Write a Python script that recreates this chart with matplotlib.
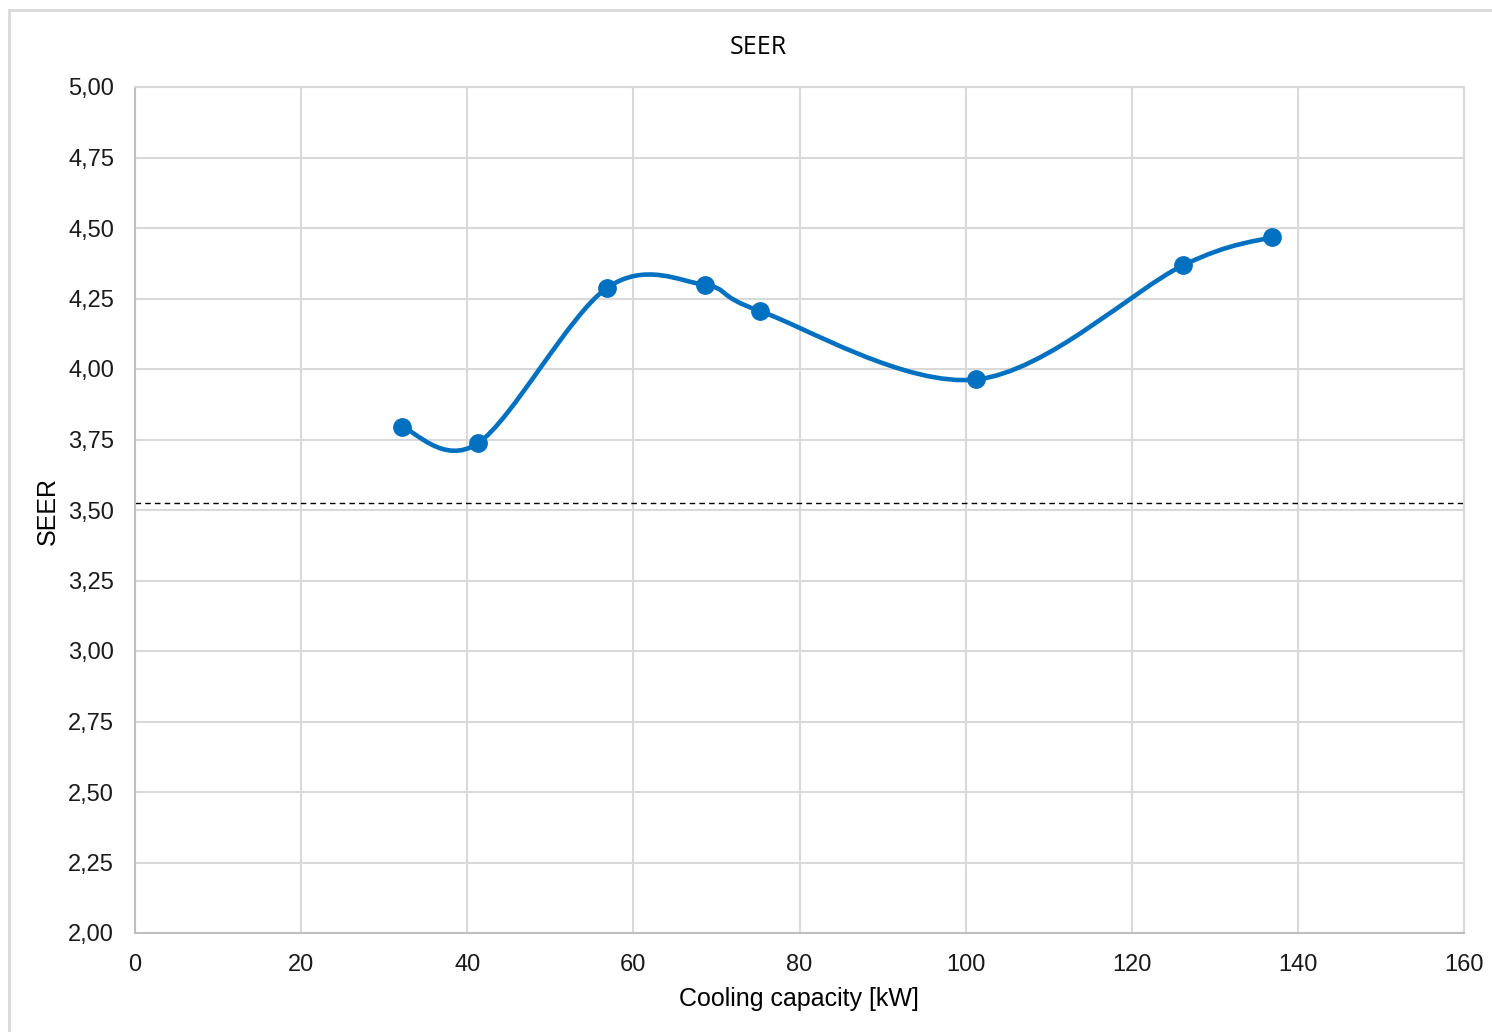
import matplotlib.pyplot as plt
import numpy as np
from matplotlib.path import Path
from matplotlib.patches import PathPatch, Rectangle
from matplotlib.ticker import FuncFormatter

# data
capacity = [32.1, 41.3, 56.8, 68.6, 75.2, 101.3, 126.2, 136.9]
seer = [3.795, 3.737, 4.287, 4.298, 4.206, 3.963, 4.368, 4.468]
limit = 3.525

blue = "#0070C0"
grid = "#d9d9d9"

fig = plt.figure(figsize=(14.92, 10.32), dpi=100)
# chart border (only top/left visible in the reference)
fig.patches.append(Rectangle((9 / 1492, -0.1), 1.2, (1032 - 10) / 1032 + 0.1,
                             transform=fig.transFigure, fill=False,
                             edgecolor="#d9d9d9", linewidth=2))
ax = fig.add_axes([135 / 1492, 99 / 1032, 1329 / 1492, 846 / 1032])

# Excel-style smoothed line: cubic bezier through the points
x = np.array(capacity)
y = np.array(seer)
pts = np.column_stack([x, y])
n = len(pts)
verts = [pts[0]]
codes = [Path.MOVETO]
for i in range(n - 1):
    p0 = pts[max(i - 1, 0)]
    p1 = pts[i]
    p2 = pts[i + 1]
    p3 = pts[min(i + 2, n - 1)]
    c1 = p1 + (p2 - p0) / 6
    c2 = p2 - (p3 - p1) / 6
    verts += [c1, c2, p2]
    codes += [Path.CURVE4] * 3
ax.add_patch(PathPatch(Path(verts, codes), facecolor="none", edgecolor=blue,
                       linewidth=3.3, capstyle="round", zorder=3))
ax.plot(capacity, seer, "o", color=blue, markersize=12.5, zorder=4)

ax.axhline(limit, color="black", linestyle=(0, (4, 3)), linewidth=1, zorder=2)

ax.set_xlim(0, 160)
ax.set_ylim(2.0, 5.0)
ax.set_xticks(np.arange(0, 161, 20))
ax.set_yticks(np.arange(2.0, 5.01, 0.25))
ax.yaxis.set_major_formatter(FuncFormatter(lambda v, p: f"{v:.2f}".replace(".", ",")))
ax.grid(True, color=grid, linewidth=1.5)
ax.set_axisbelow(True)
for s in ax.spines.values():
    s.set_color(grid)
    s.set_linewidth(1.5)
ax.spines["left"].set_color("#bfbfbf")
ax.spines["bottom"].set_color("#bfbfbf")
ax.tick_params(length=0, labelsize=17, pad=15)
for lab in ax.get_xticklabels() + ax.get_yticklabels():
    lab.set_fontfamily("Liberation Sans")
    lab.set_color("#1a1a1a")

fig.text(799 / 1492, 1 - 999 / 1032, "Cooling capacity [kW]", ha="center", va="center",
         fontsize=18, fontfamily="Liberation Sans")
fig.text(48 / 1492, 1 - 511 / 1032, "SEER", ha="center", va="center", rotation=90,
         fontsize=18, fontfamily="Liberation Sans")
fig.text(758 / 1492, 1 - 47 / 1032, "SEER", ha="center", va="center",
         fontsize=18, fontfamily="Open Sans")

fig.savefig("out.png", dpi=100)
